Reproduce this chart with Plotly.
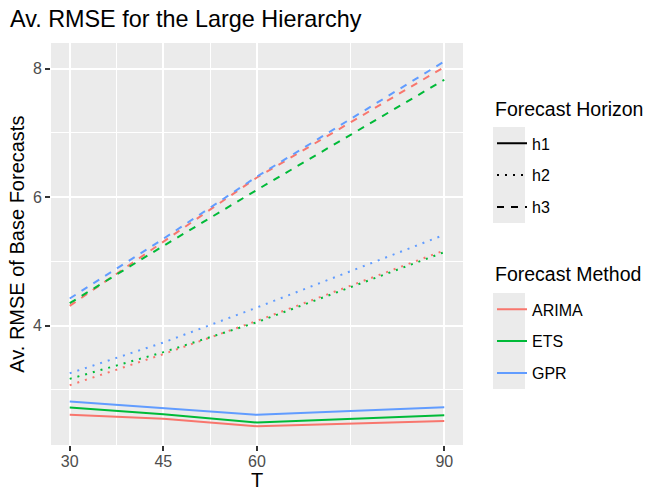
import plotly.graph_objects as go

T = [30, 45, 60, 90]
methods = ["ARIMA", "ETS", "GPR"]
colors = {"ARIMA": "#F8766D", "ETS": "#00BA38", "GPR": "#619CFF"}
horizons = ["h1", "h2", "h3"]

h1_arima = [2.608, 2.546, 2.431, 2.514]
h1_ets = [2.722, 2.619, 2.488, 2.603]
h1_gpr = [2.816, 2.717, 2.608, 2.727]

h2_arima = [3.070, 3.554, 4.073, 5.169]
h2_ets = [3.169, 3.585, 4.052, 5.143]
h2_gpr = [3.257, 3.735, 4.281, 5.413]

h3_arima = [4.306, 5.299, 6.306, 8.026]
h3_ets = [4.348, 5.240, 6.114, 7.829]
h3_gpr = [4.421, 5.351, 6.322, 8.114]

data = {
    ("h1", "ARIMA"): h1_arima, ("h1", "ETS"): h1_ets, ("h1", "GPR"): h1_gpr,
    ("h2", "ARIMA"): h2_arima, ("h2", "ETS"): h2_ets, ("h2", "GPR"): h2_gpr,
    ("h3", "ARIMA"): h3_arima, ("h3", "ETS"): h3_ets, ("h3", "GPR"): h3_gpr,
}

x_ticks = [30, 45, 60, 90]
x_minor = [37.5, 52.5, 75]
y_ticks = [4, 6, 8]
y_minor = [3, 5, 7]

title_text = "Av. RMSE for the Large Hierarchy"
x_title = "T"
y_title = "Av. RMSE of Base Forecasts"
horizon_title = "Forecast Horizon"
method_title = "Forecast Method"

LW = 2
dashes = {"h1": "solid", "h2": "2px,6px", "h3": "7px,7px"}
FONT = "Liberation Sans, Arial, sans-serif"

# plot area in pixels
L, R, TOP, BOT = 51, 463, 43, 445
W, H = 650, 490
def px_x(p):
    return (p - L) / (R - L)
def px_y(p):
    return (BOT - p) / (BOT - TOP)

fig = go.Figure()
for h in horizons:
    for m in methods:
        fig.add_trace(go.Scatter(
            x=T, y=data[(h, m)], mode="lines",
            line=dict(color=colors[m], width=LW, dash=dashes[h]),
            showlegend=False, hoverinfo="skip"))

# legend entries
for h in horizons:
    fig.add_trace(go.Scatter(
        x=[None], y=[None], mode="lines", name=h, legendgroup=h,
        line=dict(color="black", width=LW, dash=dashes[h]), legend="legend"))
for m in methods:
    fig.add_trace(go.Scatter(
        x=[None], y=[None], mode="lines", name=m, legendgroup=m,
        line=dict(color=colors[m], width=LW), legend="legend2"))

axis_common = dict(
    showline=False, zeroline=False, ticks="outside", ticklen=5, tickwidth=1.8,
    tickcolor="#333333", tickfont=dict(size=16, color="#4D4D4D", family=FONT),
    gridcolor="white", gridwidth=2, showgrid=True, automargin=False,
)

# grey legend-key backgrounds (ggplot style)
shapes = []
for (y0, y1) in [(127, 223), (293, 389)]:
    shapes.append(dict(type="rect", xref="paper", yref="paper",
                       x0=px_x(493), x1=px_x(525), y0=px_y(y1), y1=px_y(y0),
                       fillcolor="#EBEBEB", line=dict(width=0), layer="below"))

annotations = [
    dict(text=x_title, xref="paper", yref="paper", x=0.5, y=px_y(479.5),
         xanchor="center", yanchor="middle", showarrow=False, borderpad=0,
         font=dict(size=20, color="black", family=FONT)),
    dict(text=y_title, xref="paper", yref="paper", x=px_x(16.7), y=0.5, textangle=-90,
         xanchor="center", yanchor="middle", showarrow=False,
         font=dict(size=20, color="black", family=FONT)),
    dict(text=horizon_title, xref="paper", yref="paper", x=px_x(493), y=px_y(109),
         xanchor="left", yanchor="middle", showarrow=False,
         font=dict(size=19.5, color="black", family=FONT)),
    dict(text=method_title, xref="paper", yref="paper", x=px_x(493), y=px_y(274),
         xanchor="left", yanchor="middle", showarrow=False,
         font=dict(size=19.5, color="black", family=FONT)),
]

leg_common = dict(xref="container", yref="container", xanchor="left", yanchor="top",
                  font=dict(size=16, color="black", family=FONT),
                  bgcolor="rgba(0,0,0,0)", itemwidth=30, tracegroupgap=8)

fig.update_layout(
    width=W, height=H,
    margin=dict(l=L, r=W - R, t=TOP, b=H - BOT),
    paper_bgcolor="white", plot_bgcolor="#EBEBEB",
    font=dict(family=FONT, color="black"),
    shapes=shapes, annotations=annotations,
    title=dict(text=title_text, x=10 / W, xanchor="left",
               xref="container", yref="container", y=1 - 18.7 / H, yanchor="middle",
               font=dict(size=23.4, color="black", family=FONT)),
    xaxis=dict(range=[27, 93], tickvals=x_ticks, ticklabelstandoff=-3,
               minor=dict(tickvals=x_minor, showgrid=True, gridcolor="white", gridwidth=1, ticks=""),
               **axis_common),
    yaxis=dict(range=[2.1385, 8.4015], tickvals=y_ticks,
               minor=dict(tickvals=y_minor, showgrid=True, gridcolor="white", gridwidth=1, ticks=""),
               **axis_common),
    legend=dict(x=492 / W, y=1 - 126.4 / H, **leg_common),
    legend2=dict(x=492 / W, y=1 - 292.4 / H, **leg_common),
)

fig.write_html("out.html", config={"displayModeBar": False},
               post_script="document.body.style.margin='0px';")
